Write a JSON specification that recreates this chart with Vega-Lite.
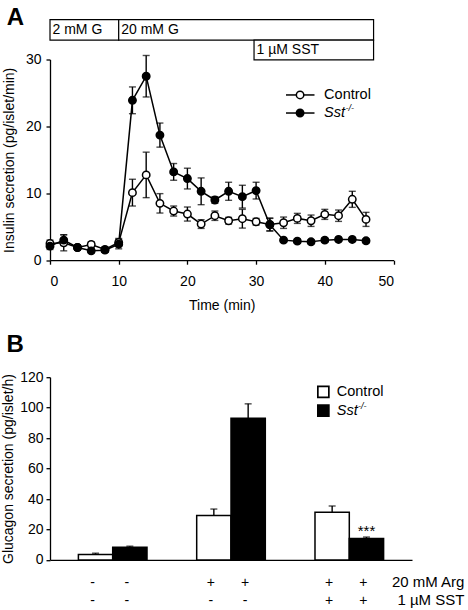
{
  "$schema": "https://vega.github.io/schema/vega-lite/v6.json",
  "background": "white",
  "padding": {"left": 1, "top": 5.5, "right": 0, "bottom": 0},
  "bounds": "flush",
  "spacing": 116.7,
  "config": {
    "view": {"stroke": null},
    "font": "Liberation Sans",
    "text": {"font": "Liberation Sans", "color": "black"},
    "axis": {
      "grid": false, "domainColor": "black", "tickColor": "black",
      "labelColor": "black", "titleColor": "black",
      "labelFont": "Liberation Sans", "titleFont": "Liberation Sans",
      "labelFontSize": 14, "titleFontSize": 14, "titleFontWeight": "normal",
      "domainWidth": 1.3, "tickWidth": 1.3, "tickSize": 4, "labelOverlap": false
    }
  },
  "datasets": {
    "ins": [
      {"t": 0, "group": "Control", "mean": 2.5, "sem": 0.5},
      {"t": 2, "group": "Control", "mean": 2.6, "sem": 1.2},
      {"t": 4, "group": "Control", "mean": 1.9, "sem": 0.4},
      {"t": 6, "group": "Control", "mean": 2.35, "sem": 0.4},
      {"t": 8, "group": "Control", "mean": 1.6, "sem": 0.4},
      {"t": 10, "group": "Control", "mean": 2.65, "sem": 0.6},
      {"t": 12, "group": "Control", "mean": 10.1, "sem": 2.0},
      {"t": 14, "group": "Control", "mean": 12.75, "sem": 3.4},
      {"t": 16, "group": "Control", "mean": 8.5, "sem": 1.45},
      {"t": 18, "group": "Control", "mean": 7.35, "sem": 0.75},
      {"t": 20, "group": "Control", "mean": 6.9, "sem": 1.05},
      {"t": 22, "group": "Control", "mean": 5.4, "sem": 0.65},
      {"t": 24, "group": "Control", "mean": 6.65, "sem": 0.7},
      {"t": 26, "group": "Control", "mean": 5.9, "sem": 0.5},
      {"t": 28, "group": "Control", "mean": 6.2, "sem": 1.4},
      {"t": 30, "group": "Control", "mean": 5.75, "sem": 0.5},
      {"t": 32, "group": "Control", "mean": 5.35, "sem": 0.95},
      {"t": 34, "group": "Control", "mean": 5.6, "sem": 0.85},
      {"t": 36, "group": "Control", "mean": 6.25, "sem": 0.75},
      {"t": 38, "group": "Control", "mean": 5.9, "sem": 0.85},
      {"t": 40, "group": "Control", "mean": 6.85, "sem": 0.75},
      {"t": 42, "group": "Control", "mean": 6.65, "sem": 0.85},
      {"t": 44, "group": "Control", "mean": 9.1, "sem": 1.2},
      {"t": 46, "group": "Control", "mean": 6.1, "sem": 1.05},
      {"t": 0, "group": "Sst", "mean": 2.1, "sem": 0.5},
      {"t": 2, "group": "Sst", "mean": 3.0, "sem": 0.8},
      {"t": 4, "group": "Sst", "mean": 1.9, "sem": 0.3},
      {"t": 6, "group": "Sst", "mean": 1.4, "sem": 0.3},
      {"t": 8, "group": "Sst", "mean": 1.5, "sem": 0.3},
      {"t": 10, "group": "Sst", "mean": 2.4, "sem": 0.7},
      {"t": 12, "group": "Sst", "mean": 23.9, "sem": 2.0},
      {"t": 14, "group": "Sst", "mean": 27.5, "sem": 3.1},
      {"t": 16, "group": "Sst", "mean": 18.7, "sem": 1.8},
      {"t": 18, "group": "Sst", "mean": 13.2, "sem": 1.25},
      {"t": 20, "group": "Sst", "mean": 12.2, "sem": 1.55},
      {"t": 22, "group": "Sst", "mean": 10.3, "sem": 2.0},
      {"t": 24, "group": "Sst", "mean": 9.0, "sem": 0.5},
      {"t": 26, "group": "Sst", "mean": 10.3, "sem": 1.35},
      {"t": 28, "group": "Sst", "mean": 9.5, "sem": 1.7},
      {"t": 30, "group": "Sst", "mean": 10.4, "sem": 1.25},
      {"t": 32, "group": "Sst", "mean": 5.3, "sem": 0.95},
      {"t": 34, "group": "Sst", "mean": 3.0, "sem": 0.3},
      {"t": 36, "group": "Sst", "mean": 2.85, "sem": 0.3},
      {"t": 38, "group": "Sst", "mean": 2.75, "sem": 0.3},
      {"t": 40, "group": "Sst", "mean": 3.0, "sem": 0.3},
      {"t": 42, "group": "Sst", "mean": 3.1, "sem": 0.3},
      {"t": 44, "group": "Sst", "mean": 3.1, "sem": 0.3},
      {"t": 46, "group": "Sst", "mean": 2.9, "sem": 0.3}
    ],
    "glu": [
      {"cond": "g1", "group": "Control", "value": 3.5, "sem": 0.9, "arg": "-", "sst": "-", "sig": ""},
      {"cond": "g1", "group": "Sst", "value": 8.3, "sem": 0.7, "arg": "-", "sst": "-", "sig": ""},
      {"cond": "g2", "group": "Control", "value": 29.1, "sem": 4.3, "arg": "+", "sst": "-", "sig": ""},
      {"cond": "g2", "group": "Sst", "value": 93.0, "sem": 9.5, "arg": "+", "sst": "-", "sig": ""},
      {"cond": "g3", "group": "Control", "value": 31.3, "sem": 4.1, "arg": "+", "sst": "+", "sig": ""},
      {"cond": "g3", "group": "Sst", "value": 14.1, "sem": 0.9, "arg": "+", "sst": "+", "sig": "***"}
    ],
    "boxG": [
      {"start": 0, "end": 10, "label": "2 mM G"},
      {"start": 10, "end": 47.1, "label": "20 mM G"}
    ],
    "boxS": [
      {"start": 29.7, "end": 47.1, "label": "1 µM SST"}
    ]
  },
  "vconcat": [
    {
      "width": 343.5,
      "height": 200.7,
      "layer": [
        {
          "data": {"name": "boxG"},
          "mark": {"type": "rect", "fill": "white", "stroke": "black", "strokeWidth": 1.2},
          "encoding": {
            "x": {"field": "start", "type": "quantitative", "scale": {"domain": [0, 50], "nice": false}, "title": "Time (min)"},
            "x2": {"field": "end"},
            "y": {"datum": 32.9, "type": "quantitative", "scale": {"domain": [0, 30], "nice": false}},
            "y2": {"datum": 35.95}
          }
        },
        {
          "data": {"name": "boxG"},
          "mark": {"type": "text", "align": "left", "baseline": "middle", "dx": 2.5, "fontSize": 14},
          "encoding": {
            "x": {"field": "start", "type": "quantitative", "title": "Time (min)"},
            "y": {"datum": 34.42, "type": "quantitative"},
            "text": {"field": "label"}
          }
        },
        {
          "data": {"name": "boxS"},
          "mark": {"type": "rect", "fill": "white", "stroke": "black", "strokeWidth": 1.2},
          "encoding": {
            "x": {"field": "start", "type": "quantitative", "title": "Time (min)"},
            "x2": {"field": "end"},
            "y": {"datum": 29.95, "type": "quantitative"},
            "y2": {"datum": 32.9}
          }
        },
        {
          "data": {"name": "boxS"},
          "mark": {"type": "text", "align": "left", "baseline": "middle", "dx": 2.5, "fontSize": 14},
          "encoding": {
            "x": {"field": "start", "type": "quantitative", "title": "Time (min)"},
            "y": {"datum": 31.42, "type": "quantitative"},
            "text": {"field": "label"}
          }
        },
        {
          "data": {"name": "ins"},
          "mark": {"type": "line", "color": "black", "strokeWidth": 1.5},
          "encoding": {
            "x": {"field": "t", "type": "quantitative", "title": "Time (min)",
                  "axis": {"values": [0, 10, 20, 30, 40, 50], "labelPadding": 10, "titlePadding": 10}},
            "y": {"field": "mean", "type": "quantitative", "title": "Insulin secretion (pg/islet/min)",
                  "axis": {"values": [0, 10, 20, 30], "labelPadding": 5, "titlePadding": 9}},
            "detail": {"field": "group"}
          }
        },
        {
          "data": {"name": "ins"},
          "mark": {"type": "errorbar", "ticks": true, "size": 7, "thickness": 1.4, "color": "black"},
          "encoding": {
            "x": {"field": "t", "type": "quantitative", "title": "Time (min)"},
            "y": {"field": "mean", "type": "quantitative", "title": "Insulin secretion (pg/islet/min)"},
            "yError": {"field": "sem"},
            "detail": {"field": "group"}
          }
        },
        {
          "data": {"name": "ins"},
          "mark": {"type": "point", "shape": "circle", "size": 55, "filled": true, "stroke": "black", "strokeWidth": 1.5, "opacity": 1},
          "encoding": {
            "x": {"field": "t", "type": "quantitative", "title": "Time (min)"},
            "y": {"field": "mean", "type": "quantitative", "title": "Insulin secretion (pg/islet/min)"},
            "fill": {"field": "group", "type": "nominal", "scale": {"domain": ["Control", "Sst"], "range": ["white", "black"]}, "legend": null}
          }
        },
        {
          "data": {"values": [{}]},
          "mark": {"type": "rule", "color": "black", "strokeWidth": 1.5},
          "encoding": {"x": {"datum": 34.35, "type": "quantitative"}, "x2": {"datum": 38.5}, "y": {"datum": 24.7, "type": "quantitative"}}
        },
        {
          "data": {"values": [{}]},
          "mark": {"type": "rule", "color": "black", "strokeWidth": 1.5},
          "encoding": {"x": {"datum": 34.35, "type": "quantitative"}, "x2": {"datum": 38.5}, "y": {"datum": 22.0, "type": "quantitative"}}
        },
        {
          "data": {"values": [{}]},
          "mark": {"type": "point", "shape": "circle", "size": 55, "filled": true, "fill": "white", "stroke": "black", "strokeWidth": 1.5, "opacity": 1},
          "encoding": {"x": {"datum": 36.4, "type": "quantitative"}, "y": {"datum": 24.7, "type": "quantitative"}}
        },
        {
          "data": {"values": [{}]},
          "mark": {"type": "point", "shape": "circle", "size": 55, "filled": true, "fill": "black", "stroke": "black", "strokeWidth": 1.5, "opacity": 1},
          "encoding": {"x": {"datum": 36.4, "type": "quantitative"}, "y": {"datum": 22.0, "type": "quantitative"}}
        },
        {
          "data": {"values": [{}]},
          "mark": {"type": "text", "text": "Control", "align": "left", "baseline": "middle", "fontSize": 14.5},
          "encoding": {"x": {"datum": 39.9, "type": "quantitative"}, "y": {"datum": 24.7, "type": "quantitative"}}
        },
        {
          "data": {"values": [{}]},
          "mark": {"type": "text", "text": "Sst", "align": "left", "baseline": "middle", "fontSize": 14.5, "fontStyle": "italic"},
          "encoding": {"x": {"datum": 39.9, "type": "quantitative"}, "y": {"datum": 22.0, "type": "quantitative"}}
        },
        {
          "data": {"values": [{}]},
          "mark": {"type": "text", "text": "-/-", "align": "left", "baseline": "middle", "fontSize": 9, "fontStyle": "italic", "dx": 21.5, "dy": -5},
          "encoding": {"x": {"datum": 39.9, "type": "quantitative"}, "y": {"datum": 22.0, "type": "quantitative"}}
        },
        {
          "data": {"values": [{}]},
          "mark": {"type": "text", "text": "A", "align": "left", "baseline": "alphabetic", "fontSize": 24, "fontWeight": "bold"},
          "encoding": {"x": {"datum": -6.29, "type": "quantitative"}, "y": {"datum": 35.1, "type": "quantitative"}}
        }
      ]
    },
    {
      "width": 362,
      "height": 182.7,
      "layer": [
        {
          "data": {"name": "glu"},
          "mark": {"type": "errorbar", "ticks": true, "size": 7, "thickness": 1.4, "color": "black"},
          "encoding": {
            "x": {"field": "cond", "type": "nominal", "sort": null,
                  "scale": {"paddingInner": 0.42, "paddingOuter": 0.24},
                  "axis": {"domain": true, "ticks": false, "labels": false, "title": null}},
            "xOffset": {"field": "group", "type": "nominal", "sort": null, "scale": {"paddingInner": 0, "paddingOuter": 0}},
            "y": {"field": "value", "type": "quantitative", "title": "Glucagon secretion (pg/islet/h)",
                  "scale": {"domain": [0, 120], "nice": false}},
            "yError": {"field": "sem"}
          }
        },
        {
          "data": {"name": "glu"},
          "mark": {"type": "bar", "stroke": "black", "strokeWidth": 1.5},
          "encoding": {
            "x": {"field": "cond", "type": "nominal", "sort": null},
            "xOffset": {"field": "group", "type": "nominal", "sort": null},
            "y": {"field": "value", "type": "quantitative", "title": "Glucagon secretion (pg/islet/h)",
                  "axis": {"values": [0, 20, 40, 60, 80, 100, 120], "tickCount": 7, "labelOverlap": false, "labelPadding": 3, "titlePadding": 4.5}},
            "fill": {"field": "group", "type": "nominal", "scale": {"domain": ["Control", "Sst"], "range": ["white", "black"]}, "legend": null}
          }
        },
        {
          "data": {"name": "glu"},
          "mark": {"type": "text", "baseline": "alphabetic", "align": "center", "dy": -2, "fontSize": 15},
          "encoding": {
            "x": {"field": "cond", "type": "nominal", "sort": null},
            "xOffset": {"field": "group", "type": "nominal", "sort": null},
            "y": {"field": "value", "type": "quantitative", "title": "Glucagon secretion (pg/islet/h)"},
            "text": {"field": "sig"}
          }
        },
        {
          "data": {"name": "glu"},
          "mark": {"type": "text", "baseline": "alphabetic", "align": "center", "dx": -3, "fontSize": 14},
          "encoding": {
            "x": {"field": "cond", "type": "nominal", "sort": null},
            "xOffset": {"field": "group", "type": "nominal", "sort": null},
            "y": {"datum": -18, "type": "quantitative"},
            "text": {"field": "arg"}
          }
        },
        {
          "data": {"name": "glu"},
          "mark": {"type": "text", "baseline": "alphabetic", "align": "center", "dx": -3, "fontSize": 14},
          "encoding": {
            "x": {"field": "cond", "type": "nominal", "sort": null},
            "xOffset": {"field": "group", "type": "nominal", "sort": null},
            "y": {"datum": -29.8, "type": "quantitative"},
            "text": {"field": "sst"}
          }
        },
        {
          "data": {"values": [{}]},
          "mark": {"type": "text", "text": "20 mM Arg", "baseline": "alphabetic", "align": "right", "dx": 98, "fontSize": 15},
          "encoding": {"x": {"datum": "g3", "type": "nominal"}, "xOffset": {"datum": "Sst", "type": "nominal"}, "y": {"datum": -18, "type": "quantitative"}}
        },
        {
          "data": {"values": [{}]},
          "mark": {"type": "text", "text": "1 µM SST", "baseline": "alphabetic", "align": "right", "dx": 98, "fontSize": 15},
          "encoding": {"x": {"datum": "g3", "type": "nominal"}, "xOffset": {"datum": "Sst", "type": "nominal"}, "y": {"datum": -29.8, "type": "quantitative"}}
        },
        {
          "data": {"values": [{}]},
          "mark": {"type": "point", "shape": "M-2.6,-1H-0.6V1H-2.6Z", "size": 121, "filled": true, "fill": "white", "stroke": "black", "strokeWidth": 1.7, "opacity": 1},
          "encoding": {"x": {"datum": "g3", "type": "nominal"}, "xOffset": {"datum": "Control", "type": "nominal"}, "y": {"datum": 110.4, "type": "quantitative"}}
        },
        {
          "data": {"values": [{}]},
          "mark": {"type": "point", "shape": "M-2.6,-1H-0.6V1H-2.6Z", "size": 121, "filled": true, "fill": "black", "stroke": "black", "strokeWidth": 1.7, "opacity": 1},
          "encoding": {"x": {"datum": "g3", "type": "nominal"}, "xOffset": {"datum": "Control", "type": "nominal"}, "y": {"datum": 98.1, "type": "quantitative"}}
        },
        {
          "data": {"values": [{}]},
          "mark": {"type": "text", "text": "Control", "baseline": "middle", "align": "left", "dx": 4.6, "fontSize": 14.5},
          "encoding": {"x": {"datum": "g3", "type": "nominal"}, "xOffset": {"datum": "Control", "type": "nominal"}, "y": {"datum": 110.4, "type": "quantitative"}}
        },
        {
          "data": {"values": [{}]},
          "mark": {"type": "text", "text": "Sst", "baseline": "middle", "align": "left", "dx": 4.6, "fontSize": 14.5, "fontStyle": "italic"},
          "encoding": {"x": {"datum": "g3", "type": "nominal"}, "xOffset": {"datum": "Control", "type": "nominal"}, "y": {"datum": 98.1, "type": "quantitative"}}
        },
        {
          "data": {"values": [{}]},
          "mark": {"type": "text", "text": "-/-", "baseline": "middle", "align": "left", "dx": 25.8, "dy": -5, "fontSize": 9, "fontStyle": "italic"},
          "encoding": {"x": {"datum": "g3", "type": "nominal"}, "xOffset": {"datum": "Control", "type": "nominal"}, "y": {"datum": 98.1, "type": "quantitative"}}
        },
        {
          "data": {"values": [{}]},
          "mark": {"type": "text", "text": "B", "baseline": "alphabetic", "align": "left", "dx": -89, "fontSize": 24, "fontWeight": "bold"},
          "encoding": {"x": {"datum": "g1", "type": "nominal"}, "xOffset": {"datum": "Control", "type": "nominal"}, "y": {"datum": 136.4, "type": "quantitative"}}
        }
      ]
    }
  ]
}
